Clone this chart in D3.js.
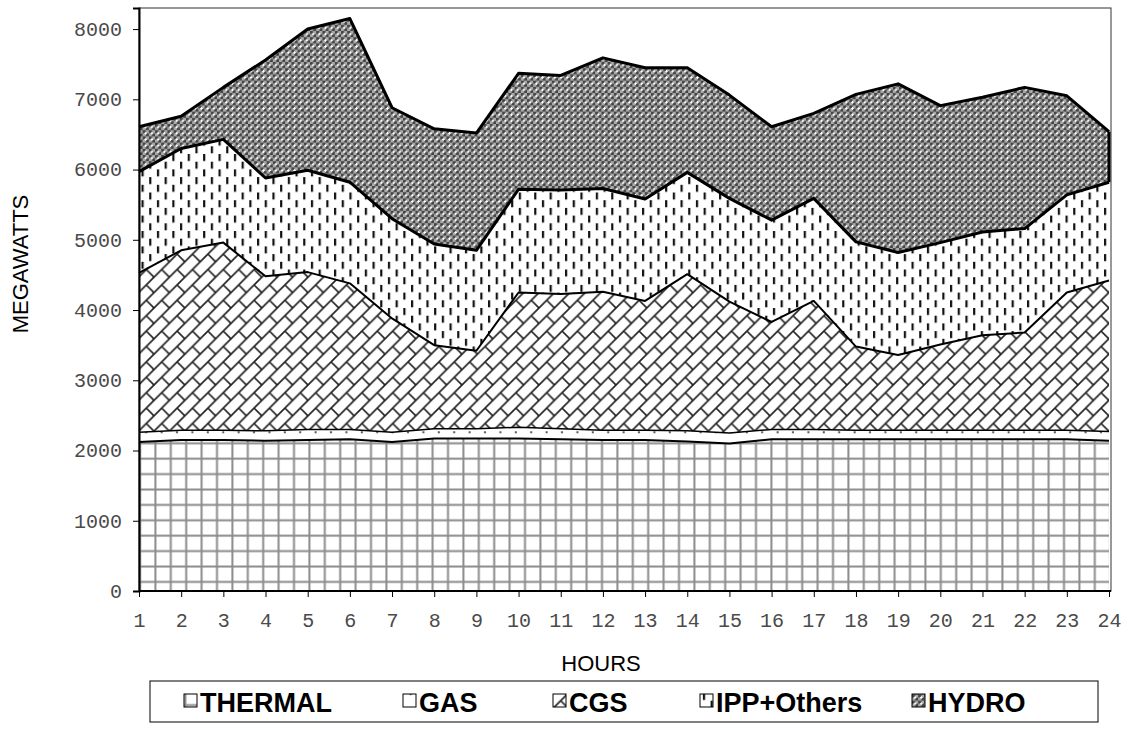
<!DOCTYPE html>
<html>
<head>
<title>Hourly Generation</title>
<script src="https://d3js.org/d3.v7.min.js"></script>
<style>
    body { margin: 0; background: #fff; }
    .tick text { font: 20px "Liberation Mono", monospace; fill: #4a4a4a; }
    .axis-title { font: 22px "Liberation Sans", Arial, sans-serif; fill: #000; }
    .legend text { font: bold 27px "Liberation Sans", Arial, sans-serif; fill: #000; }
</style>
</head>
<body>
<script>
var hours = [1, 2, 3, 4, 5, 6, 7, 8, 9, 10, 11, 12, 13, 14, 15, 16, 17, 18, 19, 20, 21, 22, 23, 24];
var yTicks = [0, 1000, 2000, 3000, 4000, 5000, 6000, 7000, 8000];
var seriesNames = ["THERMAL", "GAS", "CGS", "IPP+Others", "HYDRO"];

var thermal = [2120, 2150, 2150, 2140, 2150, 2160, 2120, 2170, 2170, 2170, 2160, 2150, 2150, 2130, 2100, 2160, 2160, 2160, 2160, 2160, 2160, 2160, 2160, 2140];
var gas = [140, 140, 140, 140, 150, 140, 140, 140, 140, 160, 150, 140, 140, 150, 150, 140, 140, 130, 130, 130, 130, 130, 130, 130];
var cgs = [2270, 2560, 2670, 2200, 2240, 2080, 1620, 1190, 1110, 1920, 1920, 1970, 1840, 2230, 1870, 1530, 1830, 1190, 1070, 1220, 1350, 1390, 1960, 2150];
var ipp = [1440, 1450, 1470, 1400, 1450, 1440, 1420, 1440, 1430, 1470, 1480, 1470, 1450, 1450, 1470, 1450, 1460, 1490, 1460, 1450, 1470, 1480, 1390, 1400];
var hydro = [640, 460, 740, 1680, 2010, 2330, 1580, 1640, 1670, 1650, 1630, 1860, 1870, 1490, 1470, 1330, 1210, 2100, 2400, 1950, 1920, 2010, 1410, 720];

var table = hours.map(function (h, i) {
    return { hour: h, "THERMAL": thermal[i], "GAS": gas[i], "CGS": cgs[i], "IPP+Others": ipp[i], "HYDRO": hydro[i] };
});

var width = 1124, height = 729;
var plot = { left: 139, right: 1111, top: 8, bottom: 591 };

var x = d3.scaleLinear().domain([1, 24]).range([139, 1109]);
var y = d3.scaleLinear().domain([0, 8300]).range([plot.bottom, plot.top]);

var svg = d3.select("body").append("svg")
    .attr("width", width)
    .attr("height", height);

var defs = svg.append("defs");
var t = 15.4;

// thermal: grey grid
var p = defs.append("pattern").attr("id", "pat-THERMAL").attr("patternUnits", "userSpaceOnUse")
    .attr("width", t).attr("height", t);
p.append("rect").attr("width", t).attr("height", t).attr("fill", "#fff");
p.append("rect").attr("x", 0.4).attr("y", 0).attr("width", 2).attr("height", t).attr("fill", "#8c8c8c");
p.append("rect").attr("x", 0).attr("y", 11.1).attr("width", t).attr("height", 2).attr("fill", "#8c8c8c");

// gas: sparse dots
p = defs.append("pattern").attr("id", "pat-GAS").attr("patternUnits", "userSpaceOnUse")
    .attr("width", t).attr("height", t);
p.append("rect").attr("width", t).attr("height", t).attr("fill", "#fff");
p.append("rect").attr("x", 6.6).attr("y", 0.1).attr("width", 2).attr("height", 2).attr("fill", "#555");

// cgs: diagonal brick
p = defs.append("pattern").attr("id", "pat-CGS").attr("patternUnits", "userSpaceOnUse")
    .attr("width", t).attr("height", t);
p.append("rect").attr("width", t).attr("height", t).attr("fill", "#fff");
p.append("path")
    .attr("d", "M-2," + (t + 2) + "L" + (t + 2) + ",-2M-2,2L2,-2M" + (t - 2) + "," + (t + 2) + "L" + (t + 2) + "," + (t - 2) +
        "M" + (t / 2) + "," + (t / 2) + "L" + (t + 1) + "," + (t + 1))
    .attr("stroke", "#222").attr("stroke-width", 1.7).attr("fill", "none");

// ipp: staggered vertical dashes
p = defs.append("pattern").attr("id", "pat-IPP+Others").attr("patternUnits", "userSpaceOnUse")
    .attr("width", t).attr("height", t);
p.append("rect").attr("width", t).attr("height", t).attr("fill", "#fff");
p.append("rect").attr("x", 2.9).attr("y", 0).attr("width", 2.2).attr("height", 7).attr("fill", "#111");
p.append("rect").attr("x", 10.6).attr("y", 7.7).attr("width", 2.2).attr("height", 7).attr("fill", "#111");

// hydro: dense checker with light lattice
var hs = 6.2;
p = defs.append("pattern").attr("id", "pat-HYDRO").attr("patternUnits", "userSpaceOnUse")
    .attr("width", hs).attr("height", hs);
p.append("rect").attr("width", hs).attr("height", hs).attr("fill", "#ababab");
p.append("rect").attr("x", 0).attr("y", 0).attr("width", hs / 2).attr("height", hs / 2).attr("fill", "#464646");
p.append("rect").attr("x", hs / 2).attr("y", hs / 2).attr("width", hs / 2).attr("height", hs / 2).attr("fill", "#464646");
p.append("path").attr("d", "M" + (hs / 2 - 1.3) + "," + (hs / 2) + "h2.6M" + (hs / 2) + "," + (hs / 2 - 1.3) + "v2.6")
    .attr("stroke", "#fff").attr("stroke-width", 1.1);

var strokeW = { "THERMAL": 2, "GAS": 1.5, "CGS": 2, "IPP+Others": 3, "HYDRO": 3 };

var stacked = d3.stack().keys(seriesNames)(table);

var area = d3.area()
    .x(function (d) { return x(d.data.hour); })
    .y0(function (d) { return y(d[0]); })
    .y1(function (d) { return y(d[1]); });

var topLine = d3.line()
    .x(function (d) { return x(d.data.hour); })
    .y(function (d) { return y(d[1]); });

// plot frame
svg.append("rect")
    .attr("x", plot.left).attr("y", plot.top)
    .attr("width", plot.right - plot.left).attr("height", plot.bottom - plot.top)
    .attr("fill", "#fff").attr("stroke", "#333").attr("stroke-width", 1);

svg.selectAll(".layer")
    .data(stacked)
    .enter()
    .append("path")
    .attr("class", "layer")
    .attr("d", area)
    .attr("fill", function (d) { return "url(#pat-" + d.key + ")"; });

svg.selectAll(".edge")
    .data(stacked)
    .enter()
    .append("path")
    .attr("class", "edge")
    .attr("d", topLine)
    .attr("fill", "none")
    .attr("stroke", "#000")
    .attr("stroke-linejoin", "round")
    .attr("stroke-width", function (d) { return strokeW[d.key]; });

// right-hand closing edge of the hydro band
var last = stacked[4][stacked[4].length - 1];
svg.append("line")
    .attr("x1", x(24)).attr("x2", x(24))
    .attr("y1", y(last[0])).attr("y2", y(last[1]))
    .attr("stroke", "#000").attr("stroke-width", 3);

// axes
var yAxis = svg.append("g")
    .attr("transform", "translate(" + plot.left + ",0)")
    .call(d3.axisLeft(y).tickValues(yTicks).tickSize(6).tickPadding(11).tickFormat(d3.format("d")));
yAxis.select(".domain").attr("stroke", "#000").attr("stroke-width", 2);
yAxis.selectAll(".tick line").attr("stroke", "#000");

var xAxis = svg.append("g")
    .attr("transform", "translate(0," + plot.bottom + ")")
    .call(d3.axisBottom(x).tickValues(hours).tickSize(6).tickPadding(16).tickFormat(d3.format("d")));
xAxis.select(".domain").attr("d", "M" + plot.left + ",0H" + plot.right).attr("stroke", "#000").attr("stroke-width", 2);
xAxis.selectAll(".tick line").attr("stroke", "#000");

svg.append("text")
    .attr("class", "axis-title")
    .attr("transform", "translate(28,264) rotate(-90)")
    .attr("text-anchor", "middle")
    .text("MEGAWATTS");

svg.append("text")
    .attr("class", "axis-title")
    .attr("x", 601).attr("y", 671)
    .attr("text-anchor", "middle")
    .text("HOURS");

// legend
var legendX = [184, 403, 553, 700, 912];
var legend = svg.append("g").attr("class", "legend");
legend.append("rect")
    .attr("x", 150).attr("y", 681).attr("width", 948).attr("height", 41)
    .attr("fill", "#fff").attr("stroke", "#000").attr("stroke-width", 1);

var item = legend.selectAll(".item")
    .data(seriesNames)
    .enter()
    .append("g")
    .attr("class", "item")
    .attr("transform", function (d, i) { return "translate(" + legendX[i] + ",0)"; });

item.append("rect")
    .attr("x", 0).attr("y", 694).attr("width", 13).attr("height", 13)
    .attr("fill", function (d) { return "url(#pat-" + d + ")"; })
    .attr("stroke", "#000").attr("stroke-width", 1);

item.append("text")
    .attr("x", 16).attr("y", 712)
    .text(function (d) { return d; });
</script>
</body>
</html>
